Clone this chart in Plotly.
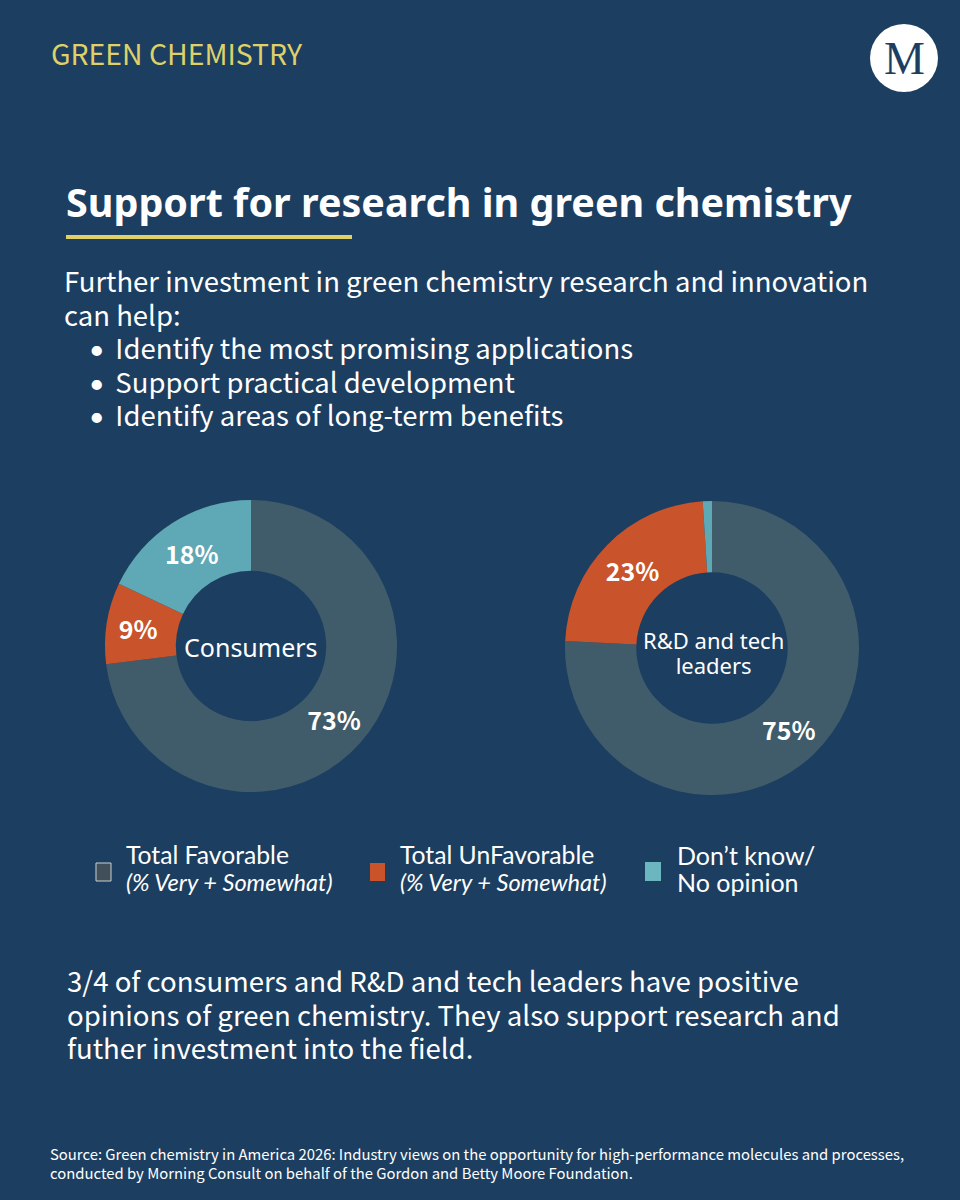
import plotly.graph_objects as go

W = 960
H = 1200
BACKGROUND = "#1c3e60"
YELLOW = "#dfd06a"
GREY = "#405c6b"
ORANGE = "#c9532b"
TEAL = "#5fa8b5"
BODY_FONT = "Noto Sans CJK SC"
LEGEND_FONT = "Lato"
HEAD_FONT = "Noto Sans"
NBSP = "\u00a0"
SIXTH_SPACE = "\u2006"

# values
consumer_labels = ["Total Favorable", "Total UnFavorable", "Don't know/No opinion"]
consumer_values = [73, 9, 18]
leader_values = [75, 23, 1]
consumer_text = ["73%", "9%", "18%"]
leader_text = ["75%", "23%", ""]

intro_lines = ["Further investment in green chemistry research and innovation", "can help:"]
bullets = ["Identify the most promising applications", "Support practical development", "Identify areas of long-term benefits"]
closing_lines = [
    "3/4 of consumers and R&D and tech leaders have positive",
    "opinions of green chemistry. They also support research and",
    "futher investment into the field.",
]
source_lines = [
    "Source: Green chemistry in America 2026: Industry views on the opportunity for high-performance molecules and processes,",
    "conducted by Morning Consult on behalf of the Gordon and Betty Moore Foundation.",
]


def px(x):
    return x / W


def py(y):
    return 1 - y / H


def donut(values, text, cx, cy, r, name):
    return go.Pie(
        labels=consumer_labels,
        values=values,
        text=text,
        name=name,
        textinfo="text",
        textposition="inside",
        insidetextorientation="horizontal",
        textfont=dict(family=BODY_FONT, size=25, color="white", weight="bold"),
        hole=0.515,
        sort=False,
        direction="clockwise",
        rotation=0,
        marker=dict(colors=[GREY, ORANGE, TEAL], line=dict(width=0)),
        domain=dict(x=[px(cx - r), px(cx + r)], y=[py(cy + r), py(cy - r)]),
        showlegend=False,
        hoverinfo="label+percent",
    )


fig = go.Figure()
fig.add_trace(donut(consumer_values, consumer_text, 251, 646, 146, "Consumers"))
fig.add_trace(donut(leader_values, leader_text, 712, 648, 147, "R&D and tech leaders"))


def label(x, y, text, size, font=BODY_FONT, color="white", anchor="left", **kw):
    fig.add_annotation(
        x=px(x - 2 if anchor == "left" else x), y=py(y), xref="paper", yref="paper", text=text, showarrow=False,
        xanchor=anchor, yanchor="middle", align=anchor,
        font=dict(family=font, size=size, color=color, **kw),
    )


def block(x, y, lines, size, spacing, font=BODY_FONT, anchor="left"):
    # plotly spaces lines at 1.3x the annotation font size, so the glyph size goes on a span
    sizes = size if isinstance(size, list) else [size] * len(lines)
    text = "<br>".join(f'<span style="font-size:{z}px">{s}</span>' for s, z in zip(lines, sizes))
    label(x, y, text, spacing / 1.3, font=font, anchor=anchor)


label(51, 52, "GREEN CHEMISTRY", 28.4, color=YELLOW)
label(66, 202, "Support for research in green chemistry", 39.5, font=HEAD_FONT, weight="bold")

dot = '<span style="font-family:Lato">•</span>'
bullet_lines = [NBSP * 4 + dot + NBSP + SIXTH_SPACE + b for b in bullets]
block(64, 347, intro_lines + bullet_lines, 27.5, 33.5)

block(251, 647, ["Consumers"], 25, 30, font="Noto Sans", anchor="center")
block(713, 652, ["R&D and tech", "leaders"], 22, 25, font="Noto Sans", anchor="center")

block(126, 868, ["Total Favorable", "<i>(% Very + Somewhat)</i>"], [24.7, 23.6], 27, font=LEGEND_FONT)
block(400, 868, ["Total UnFavorable", "<i>(% Very + Somewhat)</i>"], [24.7, 23.6], 27, font=LEGEND_FONT)
block(677, 868, ["Don’t know/", "No opinion"], 25, 27, font=LEGEND_FONT)

block(67, 1013, closing_lines, 27.6, 33.5)
block(50, 1163, source_lines, 14.85, 19)

# logo text
label(904, 58, "M", 46, font="Liberation Serif", color=BACKGROUND, anchor="center")

shapes = [
    dict(type="rect", x0=66, x1=352, y0=235, y1=239, fillcolor=YELLOW, line_width=0),
    dict(type="circle", x0=870, x1=938, y0=24, y1=92, fillcolor="white", line_width=0),
    dict(type="rect", x0=96, x1=111, y0=863, y1=881, fillcolor="#414f5b", line=dict(color="#c8d0d4", width=1)),
    dict(type="rect", x0=370, x1=385, y0=863, y1=881, fillcolor="#cb5329", line_width=0),
    dict(type="rect", x0=645, x1=661, y0=862, y1=881, fillcolor="#6cb6bf", line_width=0),
]
for s in shapes:
    s.update(
        xref="paper", yref="paper",
        x0=px(s["x0"]), x1=px(s["x1"]), y0=py(s["y0"]), y1=py(s["y1"]),
    )
    fig.add_shape(**s)

fig.update_layout(
    width=W,
    height=H,
    margin=dict(l=0, r=0, t=0, b=0),
    paper_bgcolor=BACKGROUND,
    plot_bgcolor=BACKGROUND,
)
# drop the browser's default page margin so the figure fills the window
fig.write_html(
    "out.html",
    config=dict(displayModeBar=False),
    post_script="document.body.style.margin='0';",
)
